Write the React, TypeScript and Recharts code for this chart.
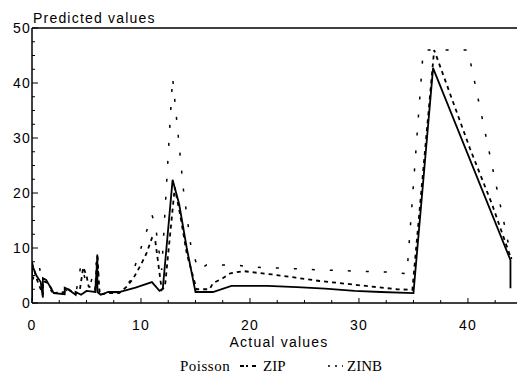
import React from 'react';
import { LineChart, Line, XAxis, YAxis, ReferenceLine } from 'recharts';

const xTicks = [0, 2.5, 5, 7.5, 10, 12.5, 15, 17.5, 20, 22.5, 25, 27.5, 30, 32.5, 35, 37.5, 40, 42.5];
const yTicks = [0, 2.5, 5, 7.5, 10, 12.5, 15, 17.5, 20, 22.5, 25, 27.5, 30, 32.5, 35, 37.5, 40, 42.5, 45, 47.5, 50];

const poissonX = [0, 0, 0.1, 0.4, 0.8, 1, 1, 1.3, 2, 3, 3, 3.3, 4, 4, 4.5, 5, 5.8, 6, 6, 6.3, 7, 8, 9.5, 11, 11.7, 12, 12.9, 13.5, 14.2, 15, 16.6, 18.3, 21.6, 24.3, 26.9, 29.6, 32, 35, 36.8, 43.9, 43.9];
const poissonY = [0.5, 7.5, 6.5, 5, 3.8, 1, 4.5, 4.2, 1.8, 1.6, 2.8, 2.5, 1.5, 2, 1.5, 2.2, 2, 8.5, 2, 1.5, 2, 2, 2.8, 3.8, 2.2, 2.6, 22.4, 18, 10, 2, 2, 3.1, 3.1, 2.9, 2.6, 2.2, 2.0, 1.8, 42.7, 7.8, 2.7];

const zipX = [0, 0, 0.2, 0.5, 1, 1, 1.5, 2, 3, 3.3, 4, 4.4, 4.7, 5, 5.2, 5.8, 6, 6.2, 7, 8, 8.7, 9.3, 10, 10.5, 11, 11.3, 11.9, 12.2, 13.1, 13.6, 14.2, 15.1, 16.3, 16.6, 17.5, 18.2, 19.4, 20.6, 22, 24.2, 26.4, 28.8, 31.1, 33.5, 34.9, 36.9, 40.2, 42.2, 43.9];
const zipY = [1, 7, 6, 4, 1.5, 4, 3.6, 1.8, 2, 2.6, 1.6, 2.5, 6.5, 5, 3, 2.5, 9, 1.5, 1.8, 1.8, 3, 4.5, 7, 9, 11.8, 11.5, 2.4, 3, 21, 16, 9, 2.5, 2.5, 3.6, 4.5, 5.4, 5.8, 5.5, 5.2, 4.6, 4.0, 3.5, 3.0, 2.5, 2.4, 46, 28, 18, 8.4];

const zinbX = [0, 0.2, 0.7, 1, 1.5, 2, 3, 4, 4.5, 5, 5.3, 6, 6.2, 7, 8, 9, 10, 11, 11.3, 11.9, 12.9, 13.9, 14.6, 15.3, 16, 18.6, 20.5, 23.4, 26.5, 29.8, 33, 34.4, 35.9, 40, 44];
const zinbY = [1, 6.5, 6.4, 2, 3, 1.5, 2.5, 1.5, 7, 3.5, 3, 8, 2, 1.8, 2, 4, 10, 16, 14.4, 6, 41, 20.5, 10, 6, 6.9, 6.9, 6.5, 6.3, 6.0, 5.8, 5.6, 5.3, 46, 46, 8];

const toPts = (xs: number[], ys: number[]) => xs.map((x, i) => ({ x, y: ys[i] }));
const poisson = toPts(poissonX, poissonY);
const zip = toPts(zipX, zipY);
const zinb = toPts(zinbX, zinbY);

const sans = "'Liberation Sans', Arial, sans-serif";
const serif = "'Liberation Serif', 'Times New Roman', serif";

const XTick = (props: any) => {
  const { x, y, payload } = props;
  const v = payload.value;
  const major = v % 10 === 0;
  return (
    <g>
      <line x1={x} x2={x} y1={y} y2={y - (major ? 5 : 3)} stroke="#000" strokeWidth={1} />
      {major && (
        <text x={x} y={y + 27} textAnchor="middle" fontFamily={sans} fontSize={14} letterSpacing={1.2} fill="#000">
          {v}
        </text>
      )}
    </g>
  );
};

const YTick = (props: any) => {
  const { x, y, payload } = props;
  const v = payload.value;
  const major = v % 10 === 0;
  return (
    <g>
      <line x1={x} x2={x + (major ? 6 : 3)} y1={y} y2={y} stroke="#000" strokeWidth={1} />
      {major && (
        <text x={x - 1} y={y + 5} textAnchor="end" fontFamily={sans} fontSize={14} letterSpacing={1.2} fill="#000">
          {v}
        </text>
      )}
    </g>
  );
};

export default function App() {
  return (
    <div style={{ position: 'absolute', left: 0, top: 0, width: 517, height: 374, background: '#fff' }}>
      <LineChart width={517} height={374} margin={{ top: 28, right: 0, bottom: 41, left: 0 }}>
        <XAxis
          type="number"
          dataKey="x"
          domain={[0, 44.5]}
          ticks={xTicks}
          interval={0}
          tickSize={0}
          tickMargin={0}
          tick={<XTick />}
          tickLine={false}
          axisLine={{ stroke: '#000', strokeWidth: 1.5 }}
          height={30}
          allowDataOverflow
        />
        <YAxis
          type="number"
          dataKey="y"
          domain={[0, 50]}
          ticks={yTicks}
          interval={0}
          tickSize={0}
          tickMargin={0}
          tick={<YTick />}
          tickLine={false}
          axisLine={{ stroke: '#000', strokeWidth: 1.5 }}
          width={32}
          allowDataOverflow
        />
        <ReferenceLine y={50} stroke="#000" strokeWidth={1.5} />
        <Line data={zinb} dataKey="y" type="linear" stroke="#000" strokeWidth={1.5} strokeDasharray="3 15" dot={false} isAnimationActive={false} />
        <Line data={zip} dataKey="y" type="linear" stroke="#000" strokeWidth={1.8} strokeDasharray="4 4" dot={false} isAnimationActive={false} />
        <Line data={poisson} dataKey="y" type="linear" stroke="#000" strokeWidth={1.8} dot={false} isAnimationActive={false} />
      </LineChart>
      <svg width={517} height={374} style={{ position: 'absolute', left: 0, top: 0, pointerEvents: 'none' }}>
        <text x={33} y={23} fontFamily={sans} fontSize={14} letterSpacing={1.2} fill="#000">Predicted values</text>
        <text x={279} y={347} textAnchor="middle" fontFamily={sans} fontSize={14} letterSpacing={1.2} fill="#000">Actual values</text>
        <text x={180} y={371} fontFamily={serif} fontSize={15} letterSpacing={0.5} fill="#000">Poisson</text>
        <line x1={240} x2={258} y1={366} y2={366} stroke="#000" strokeWidth={2} strokeDasharray="4 2 2 4" />
        <text x={263} y={371} fontFamily={serif} fontSize={15} fill="#000">ZIP</text>
        <line x1={328} x2={343} y1={366} y2={366} stroke="#000" strokeWidth={1.5} strokeDasharray="2 5" />
        <text x={347} y={371} fontFamily={serif} fontSize={15} fill="#000">ZINB</text>
      </svg>
    </div>
  );
}
